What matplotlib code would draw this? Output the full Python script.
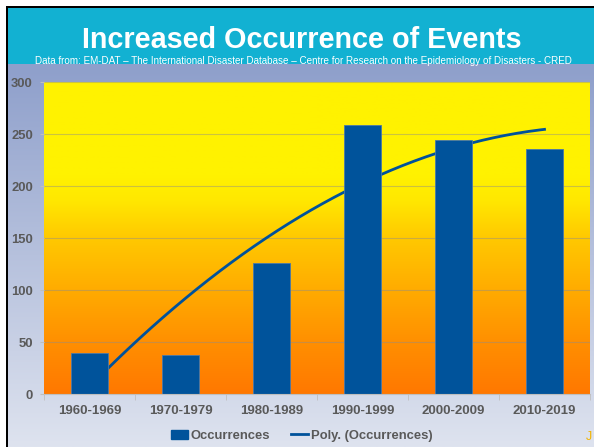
import numpy as np
import matplotlib
matplotlib.use('Agg')
import matplotlib.pyplot as plt
from matplotlib.colors import LinearSegmentedColormap
from matplotlib.patches import Rectangle, Patch
from matplotlib.lines import Line2D

categories = ['1960-1969', '1970-1979', '1980-1989', '1990-1999', '2000-2009', '2010-2019']
occurrences = [40, 38, 126, 259, 244, 236]
y_ticks = [0, 50, 100, 150, 200, 250, 300]
title = 'Increased Occurrence of Events'
subtitle = ('Data from: EM-DAT \u2013 The International Disaster Database \u2013 '
            'Centre for Research on the Epidemiology of Disasters - CRED')
legend_labels = ['Occurrences', 'Poly. (Occurrences)']

plt.rcParams['font.family'] = ['Liberation Sans', 'DejaVu Sans']

W, H = 594, 447
fig = plt.figure(figsize=(W / 100, H / 100), dpi=100, facecolor='white')

bg = fig.add_axes([0, 0, 1, 1])
bg.set_xlim(0, W)
bg.set_ylim(H, 0)
bg.axis('off')

grad = np.linspace(0, 1, 256).reshape(-1, 1)
cmap_bg = LinearSegmentedColormap.from_list('bg', ['#8E9FCB', '#DEE3EF'])
bg.imshow(grad, cmap=cmap_bg, extent=[8, W, H, 64], aspect='auto', zorder=0)
bg.add_patch(Rectangle((8, 8), W - 8, 56, color='#12B1D2', zorder=1, lw=0))
bg.add_patch(Rectangle((6, 5.5), W - 6, 2.5, color='black', zorder=3, lw=0))
bg.add_patch(Rectangle((5.5, 5.5), 2.5, H - 5.5, color='black', zorder=3, lw=0))

bg.text(302, 37, title, ha='center', va='center_baseline', color='white',
        fontsize=20.7, fontweight='bold', zorder=4)
bg.text(303, 61, subtitle, ha='center', va='center', color='white',
        fontsize=7.15, zorder=4)
bg.text(586, 437, 'J', ha='left', va='center', color='#F2B400', fontsize=9, zorder=4)

ax = fig.add_axes([44 / W, (H - 394.3) / H, 546 / W, 312.3 / H])
ax.patch.set_visible(False)
x = np.arange(len(categories))

cmap_plot = LinearSegmentedColormap.from_list(
    'plot', [(0.0, '#FF7800'), (0.15, '#FF8D00'), (0.33, '#FFAB00'),
             (0.5, '#FFC900'), (0.62, '#FFE800'), (0.7, '#FFF200'), (1.0, '#FFF200')])
ax.imshow(np.linspace(1, 0, 256).reshape(-1, 1), cmap=cmap_plot,
          extent=[-0.5, len(categories) - 0.5, 0, 300], aspect='auto', zorder=0)

coef = np.polyfit(x + 1, occurrences, 2)
xf = np.linspace(0, len(categories) - 1, 200)
ax.plot(xf, np.polyval(coef, xf + 1), color='#00529B', lw=2.0, zorder=2)
ax.bar(x, occurrences, width=0.4, color='#00539B', edgecolor='#4A78A8',
       linewidth=0.6, zorder=3)

ax.set_xlim(-0.5, len(categories) - 0.5)
ax.set_ylim(0, 300)
ax.set_yticks(y_ticks)
ax.set_xticks(x)
ax.set_xticklabels(categories)
ax.set_xticks(np.arange(-0.5, len(categories), 1.0), minor=True)
ax.yaxis.grid(True, color='#8C8C8C', alpha=0.45, lw=0.8, zorder=1)
ax.set_axisbelow(True)
for s in ['top', 'right', 'left']:
    ax.spines[s].set_visible(False)
ax.spines['bottom'].set_color('#BFBFBF')
ax.spines['bottom'].set_zorder(4)
ax.tick_params(axis='y', length=3, color='#BFBFBF', pad=5, labelsize=9.4,
               labelcolor='#595959')
ax.tick_params(axis='x', which='major', length=0, pad=8, labelsize=9.5,
               labelcolor='#595959')
ax.tick_params(axis='x', which='minor', length=4, color='#BFBFBF')
for lab in ax.get_xticklabels() + ax.get_yticklabels():
    lab.set_fontweight('bold')

handles = [Patch(facecolor='#00539B', edgecolor='#00539B'),
           Line2D([0], [0], color='#00529B', lw=2.0)]
fig.legend(handles, legend_labels, loc='center', bbox_to_anchor=(302 / W, 1 - 436 / H),
           ncol=2, frameon=False, handlelength=1.3, handletextpad=0.2,
           columnspacing=1.6, prop={'weight': 'bold', 'size': 9.4},
           labelcolor='#595959')

fig.savefig('out.png', dpi=100, facecolor='white')
